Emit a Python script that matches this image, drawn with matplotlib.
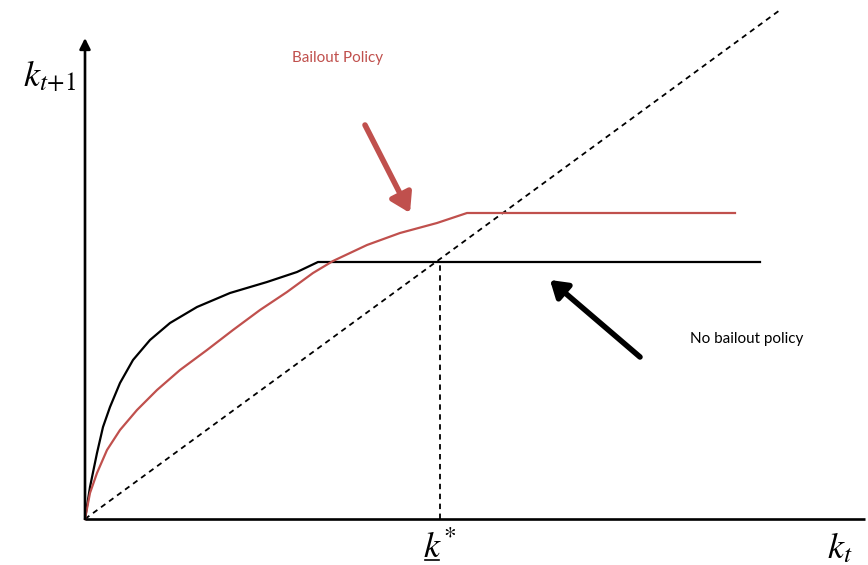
import numpy as np
import matplotlib
matplotlib.use("Agg")
import matplotlib.pyplot as plt

plt.rcParams["mathtext.fontset"] = "stix"

# data units: origin of the diagram at (0, 0)
no_bailout_x = [0, 5, 12, 18, 25, 35, 48, 65, 85, 112, 145, 182, 212, 233, 675]
no_bailout_y = [0, 32, 66, 92, 112, 136, 159, 179, 196, 212, 226, 237, 247, 257, 257]

bailout_x = [0, 5, 12, 22, 35, 52, 72, 95, 122, 148, 175, 202, 228, 248,
             282, 315, 352, 382, 650]
bailout_y = [0, 26, 46, 69, 89, 109, 129, 149, 169, 189, 209, 227, 246, 258,
             274, 286, 296, 306, 306]

diag_x = [0, 695]
diag_y = [0, 509]

k_star = 355
k_star_y = 257

red = "#C0504D"

fig = plt.figure(figsize=(8.68, 5.65), dpi=100)
ax = fig.add_axes([0, 0, 1, 1])
ax.set_xlim(-85, 783)
ax.set_ylim(-46, 519)
ax.axis("off")

# axes of the diagram
ax.plot([0, 780], [0, 0], color="black", lw=1.9, solid_capstyle="butt")
ax.annotate("", xy=(0, 481), xytext=(0, 0),
            arrowprops=dict(arrowstyle="-|>", color="black", lw=1.9,
                            mutation_scale=16, shrinkA=0, shrinkB=0))

ax.plot(diag_x, diag_y, color="black", lw=1.3, ls=(0, (3, 2.5)))
ax.plot([k_star, k_star], [0, k_star_y], color="black", lw=1.3, ls=(0, (3, 2.5)))

ax.plot(no_bailout_x, no_bailout_y, color="black", lw=1.6,
        solid_joinstyle="round")
ax.plot(bailout_x, bailout_y, color=red, lw=1.6, solid_joinstyle="round")

# pointer arrows
ax.annotate("", xy=(325, 306), xytext=(280, 394),
            arrowprops=dict(arrowstyle="-|>,head_length=0.8,head_width=0.5",
                            color=red, lw=4, mutation_scale=14,
                            shrinkA=0, shrinkB=0))
ax.annotate("", xy=(465, 239), xytext=(555, 162),
            arrowprops=dict(arrowstyle="-|>,head_length=0.7,head_width=0.45",
                            color="black", lw=4, mutation_scale=14,
                            shrinkA=0, shrinkB=0))

ax.text(253, 461, "Bailout Policy", color=red, fontsize=11, family="Lato",
        ha="center", va="center")
ax.text(662, 180, "No bailout policy", color="black", fontsize=11, family="Lato",
        ha="center", va="center")

ax.text(-35, 443, r"$k_{t\!+\!1}$", fontsize=26, ha="center", va="center")
ax.text(k_star, -29, r"$k^{*}$", fontsize=26, ha="center", va="center")
ax.plot([k_star - 15, k_star - 1], [-41, -41], color="black", lw=1.2)
ax.text(755, -29, r"$k_t$", fontsize=26, ha="center", va="center")

fig.savefig("out.png", dpi=100)
